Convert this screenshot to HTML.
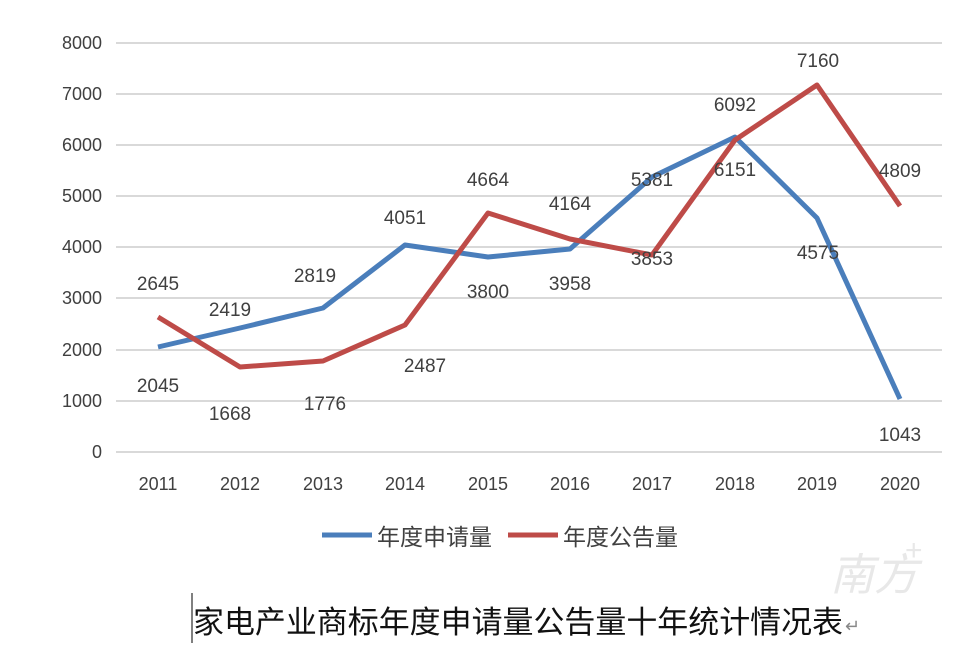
<!DOCTYPE html>
<html><head><meta charset="utf-8"><style>
body{margin:0;background:#fff;}
svg{display:block;font-family:"Liberation Sans","Noto Sans CJK SC",sans-serif;}
</style></head><body>
<svg width="972" height="656" viewBox="0 0 972 656" xmlns="http://www.w3.org/2000/svg">
<g stroke="#d9d9d9" stroke-width="2">
<line x1="116" y1="43" x2="942" y2="43"/><line x1="116" y1="94" x2="942" y2="94"/>
<line x1="116" y1="145" x2="942" y2="145"/><line x1="116" y1="196" x2="942" y2="196"/>
<line x1="116" y1="247" x2="942" y2="247"/><line x1="116" y1="298" x2="942" y2="298"/>
<line x1="116" y1="350" x2="942" y2="350"/><line x1="116" y1="401" x2="942" y2="401"/>
<line x1="116" y1="452" x2="942" y2="452"/>
</g>
<g font-size="18" fill="#404040" text-anchor="end">
<text x="102" y="49">8000</text><text x="102" y="100">7000</text><text x="102" y="151">6000</text>
<text x="102" y="202">5000</text><text x="102" y="253">4000</text><text x="102" y="304">3000</text>
<text x="102" y="356">2000</text><text x="102" y="407">1000</text><text x="102" y="458">0</text>
</g>
<g font-size="18" fill="#404040" text-anchor="middle">
<text x="158" y="490">2011</text><text x="240" y="490">2012</text><text x="323" y="490">2013</text>
<text x="405" y="490">2014</text><text x="488" y="490">2015</text><text x="570" y="490">2016</text>
<text x="652" y="490">2017</text><text x="735" y="490">2018</text><text x="817" y="490">2019</text>
<text x="900" y="490">2020</text>
</g>
<polyline fill="none" stroke="#4a7ebb" stroke-width="5" stroke-linejoin="round" points="158,347 240,328 323,308 405,245 488,257 570,249 652,177 735,137 817,218 900,399"/>
<polyline fill="none" stroke="#be4b48" stroke-width="5" stroke-linejoin="round" points="158,317 240,367 323,361 405,325 488,213 570,239 652,255 735,140 817,85 900,206"/>
<g font-size="19" fill="#404040" text-anchor="middle">
<text x="158" y="290">2645</text><text x="158" y="392">2045</text>
<text x="230" y="316">2419</text><text x="230" y="420">1668</text>
<text x="315" y="282">2819</text><text x="325" y="410">1776</text>
<text x="405" y="224">4051</text><text x="425" y="372">2487</text>
<text x="488" y="186">4664</text><text x="488" y="298">3800</text>
<text x="570" y="210">4164</text><text x="570" y="290">3958</text>
<text x="652" y="186">5381</text><text x="652" y="265">3853</text>
<text x="735" y="111">6092</text><text x="735" y="176">6151</text>
<text x="818" y="67">7160</text><text x="818" y="259">4575</text>
<text x="900" y="177">4809</text><text x="900" y="441">1043</text>
</g>
<line x1="322" y1="535" x2="372" y2="535" stroke="#4a7ebb" stroke-width="5"/>
<line x1="508" y1="535" x2="558" y2="535" stroke="#be4b48" stroke-width="5"/>
<g font-size="23" fill="#404040">
<text x="377" y="545">年度申请量</text><text x="563" y="545">年度公告量</text>
</g>
<line x1="192" y1="593" x2="192" y2="643" stroke="#000" stroke-width="1"/>
<text x="193" y="633" font-size="31" fill="#111" textLength="650" lengthAdjust="spacingAndGlyphs">家电产业商标年度申请量公告量十年统计情况表</text>
<text x="845" y="632" font-size="18" fill="#888">↵</text>
<text x="830" y="590" font-size="44" fill="#e8e8e8" font-style="italic">南方</text>
<text x="905" y="560" font-size="30" fill="#e8e8e8">+</text>
</svg>
</body></html>
